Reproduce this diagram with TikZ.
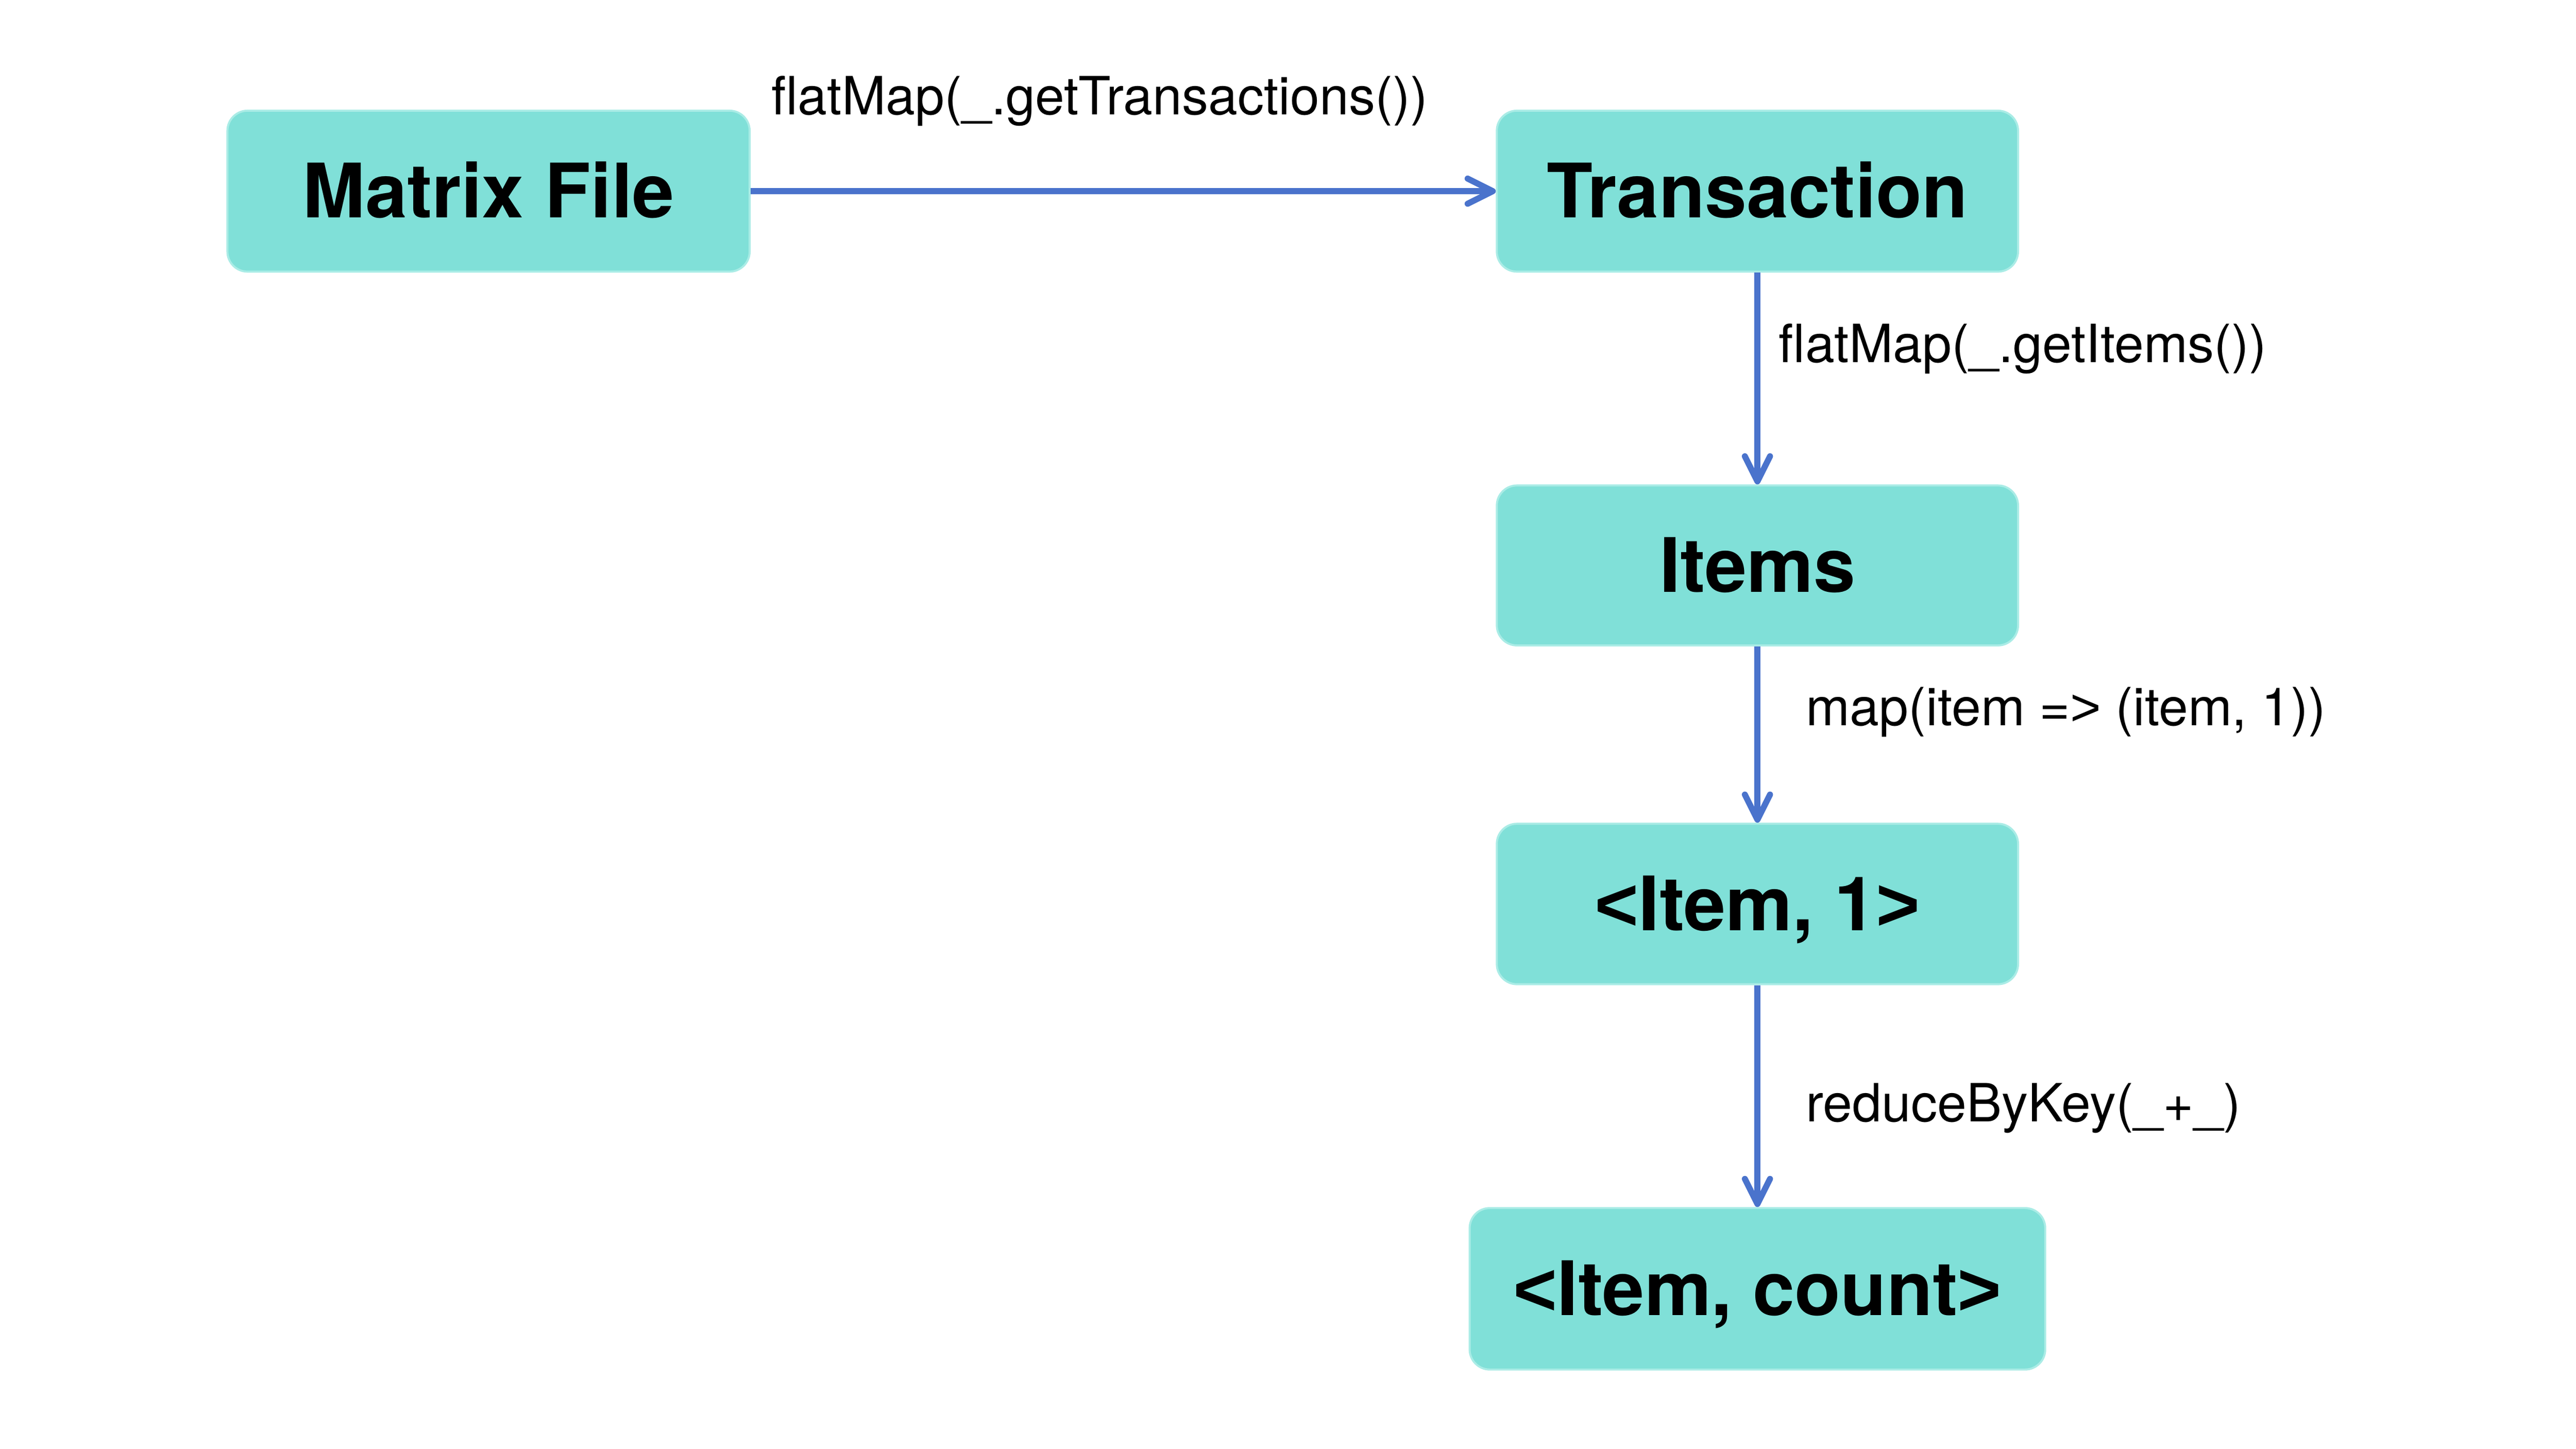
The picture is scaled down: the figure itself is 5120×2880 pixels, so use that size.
\documentclass[tikz,border=0pt]{standalone}
\usepackage{fontspec}
\setmainfont{TeX Gyre Heros}
\newfontfamily\ltgt{Liberation Sans}
\usetikzlibrary{arrows.meta}
\definecolor{boxfill}{RGB}{128,224,216}
\definecolor{boxline}{RGB}{170,236,230}
\definecolor{arrowblue}{RGB}{74,115,204}
\newcommand{\lt}{{\ltgt\bfseries <}}
\newcommand{\gtsym}{{\ltgt\bfseries >}}
\newcommand{\gtreg}{{\ltgt >}}
\begin{document}
\begin{tikzpicture}[x=0.1mm,y=-0.1mm,
  box/.style={draw=boxline, line width=0.4mm, fill=boxfill, rounded corners=4mm,
    inner sep=0pt, text height=30pt, text depth=0pt,
    font=\fontsize{42.5}{50}\selectfont\bfseries},
  lbl/.style={inner sep=0pt, font=\fontsize{29.8}{35}\selectfont},
  conn/.style={draw=arrowblue, line width=1.2mm,
    -{Straight Barb[length=5mm,width=5mm,round]}}]
\useasboundingbox (0,0) rectangle (5120,2880);
\fill[white] (0,0) rectangle (5120,2880);
\node[box, minimum width=103.8mm, minimum height=32mm] (mf) at (971,380) {Matrix File};
\node[box, minimum width=103.6mm, minimum height=32mm] (tr) at (3493,380) {Transaction};
\node[box, minimum width=103.6mm, minimum height=31.8mm] (it) at (3493,1124) {Items};
\node[box, minimum width=103.6mm, minimum height=31.9mm] (i1) at (3493,1797) {\lt Item, 1\gtsym};
\node[box, minimum width=114.4mm, minimum height=32.1mm] (ic) at (3493,2562) {\lt Item, count\gtsym};
\draw[conn] (mf.east) -- (tr.west);
\draw[conn] (tr.south) -- (it.north);
\draw[conn] (it.south) -- (i1.north);
\draw[conn] (i1.south) -- (ic.north);
\node[lbl, anchor=base west] (l1) at (1533,228) {flatMap(\_.getTransactions())};
\node[lbl, anchor=base west] (l2) at (3535,720) {flatMap(\_.getItems())};
\node[lbl, anchor=base west] (l3) at (3589,1442) {map(item =\gtreg{} (item, 1))};
\node[lbl, anchor=base west] (l4) at (3589,2230) {reduceByKey(\_+\_)};
\end{tikzpicture}
\end{document}
